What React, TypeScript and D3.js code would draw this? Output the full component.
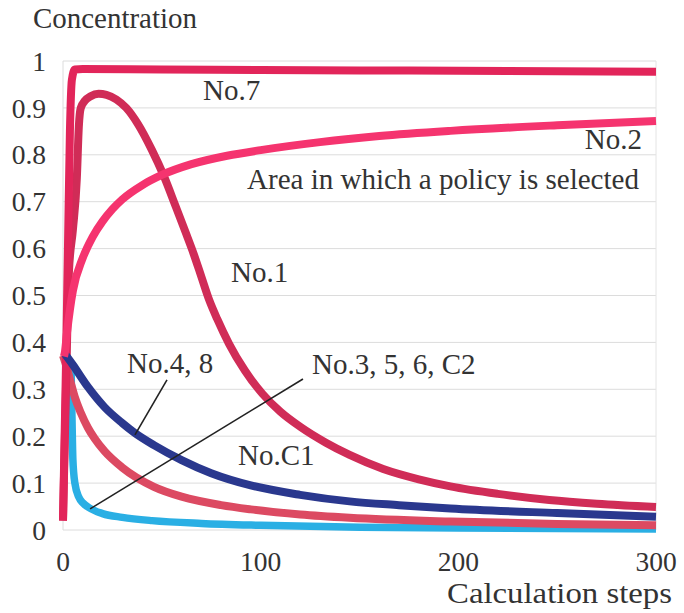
import React from "react";
import * as d3 from "d3";

// Concentration of each policy over the calculation steps
type Pt = [number, number];

const steps7: number[] = [0, 1.5, 2.5, 3.5, 4.5, 6, 10, 50, 100, 150, 200, 250, 300];
const conc7: number[] = [0.02, 0.35, 0.6, 0.85, 0.96, 0.982, 0.983, 0.982, 0.981, 0.98, 0.979, 0.978, 0.977];

const steps1: number[] = [0, 1.5, 3, 5, 7, 8, 9, 11, 14, 18, 22, 27, 32, 38, 45, 51, 57, 62, 66, 70, 74, 78, 84, 92, 101, 110, 120, 133, 145, 162, 180, 196, 220, 246, 270, 300];
const conc1: number[] = [0.02, 0.3, 0.55, 0.64, 0.75, 0.86, 0.9, 0.915, 0.925, 0.93, 0.928, 0.918, 0.9, 0.865, 0.81, 0.755, 0.69, 0.635, 0.59, 0.54, 0.49, 0.45, 0.397, 0.34, 0.29, 0.252, 0.22, 0.186, 0.16, 0.13, 0.108, 0.093, 0.077, 0.064, 0.056, 0.049];

const steps2: number[] = [0.5, 1, 2, 3.5, 5, 10, 15, 20, 25, 30, 40, 50, 65, 83, 100, 130, 160, 196, 250, 300];
const conc2: number[] = [0.37, 0.38, 0.42, 0.47, 0.51, 0.58, 0.625, 0.658, 0.684, 0.705, 0.735, 0.757, 0.78, 0.798, 0.81, 0.827, 0.84, 0.851, 0.863, 0.872];

const steps48: number[] = [1, 5, 12.6, 21, 30, 36, 46, 60, 75, 95, 120, 145, 170, 196, 250, 300];
const conc48: number[] = [0.375, 0.352, 0.305, 0.262, 0.228, 0.208, 0.181, 0.149, 0.121, 0.095, 0.075, 0.061, 0.053, 0.046, 0.036, 0.028];

const stepsC1: number[] = [0, 2, 4, 6, 9, 12.6, 16, 21, 30, 46, 60, 80, 95, 120, 145, 196, 250, 300];
const concC1: number[] = [0.372, 0.345, 0.313, 0.283, 0.25, 0.218, 0.195, 0.168, 0.133, 0.092, 0.071, 0.053, 0.044, 0.033, 0.026, 0.018, 0.013, 0.01];

const stepsC2: number[] = [4, 4.5, 5, 6, 8, 10, 13, 20, 30, 45, 70, 100, 150, 200, 300];
const concC2: number[] = [0.36, 0.25, 0.15, 0.1, 0.07, 0.058, 0.048, 0.035, 0.027, 0.02, 0.014, 0.01, 0.006, 0.004, 0.002];

const xTicks: number[] = [0, 100, 200, 300];
const yTicks: number[] = [0, 0.1, 0.2, 0.3, 0.4, 0.5, 0.6, 0.7, 0.8, 0.9, 1];

const zip = (xs: number[], ys: number[]): Pt[] => xs.map((x, i) => [x, ys[i]]);

const series = [
  { name: "No.3, 5, 6, C2", pts: zip(stepsC2, concC2), color: "#2aafe4", w: 7.5 },
  { name: "No.C1", pts: zip(stepsC1, concC1), color: "#dc4a62", w: 8 },
  { name: "No.1", pts: zip(steps1, conc1), color: "#d02c57", w: 8 },
  { name: "No.7", pts: zip(steps7, conc7), color: "#e2255a", w: 8 },
  { name: "No.4, 8", pts: zip(steps48, conc48), color: "#2a388e", w: 8 },
  { name: "No.2", pts: zip(steps2, conc2), color: "#f5346f", w: 8 },
];

// Leader lines from a label to its curve, in data units
const leaders: { from: Pt; to: Pt }[] = [
  { from: [52.6, 0.32], to: [36.4, 0.203] },
  { from: [121.4, 0.322], to: [13.7, 0.045] },
];

const FONT = '"Liberation Serif", "Times New Roman", serif';
const TEXT = "#333";

export default function App() {
  const x = d3.scaleLinear().domain([0, 300]).range([63, 656]);
  const y = d3.scaleLinear().domain([0, 1]).range([530, 61]);
  const line = d3
    .line<Pt>()
    .x((d) => x(d[0]))
    .y((d) => y(d[1]))
    .curve(d3.curveMonotoneX);

  return (
    <svg
      width={684}
      height={613}
      style={{ position: "absolute", left: 0, top: 0, background: "#fff" }}
      fontFamily={FONT}
    >
      {/* grid */}
      {yTicks.map((t) => (
        <line key={t} x1={x(0)} x2={x(300)} y1={y(t)} y2={y(t)} stroke="#dcdcdc" strokeWidth={1} />
      ))}
      <line x1={x(0)} x2={x(0)} y1={y(0)} y2={y(1)} stroke="#dcdcdc" />
      <line x1={x(300)} x2={x(300)} y1={y(0)} y2={y(1)} stroke="#e4e4e4" />

      {/* tick labels */}
      {yTicks.map((t) => (
        <text key={t} x={46} y={y(t)} dy="0.35em" textAnchor="end" fontSize={27.5} fill={TEXT}>
          {d3.format("~g")(t)}
        </text>
      ))}
      {xTicks.map((t) => (
        <text key={t} x={x(t)} y={571} textAnchor="middle" fontSize={27.5} fill={TEXT}>
          {t}
        </text>
      ))}

      {/* curves */}
      {series.map((s) => (
        <path
          key={s.name}
          d={line(s.pts) || ""}
          fill="none"
          stroke={s.color}
          strokeWidth={s.w}
          strokeLinejoin="round"
          strokeLinecap="butt"
        />
      ))}

      {/* leader lines */}
      {leaders.map((l, i) => (
        <line
          key={i}
          x1={x(l.from[0])}
          y1={y(l.from[1])}
          x2={x(l.to[0])}
          y2={y(l.to[1])}
          stroke="#222"
          strokeWidth={1.6}
        />
      ))}

      {/* labels */}
      <g fontSize={29} fill={TEXT}>
        <text x={33} y={28} textLength={164} lengthAdjust="spacingAndGlyphs">Concentration</text>
        <text x={447} y={603} fontSize={28.5} textLength={225} lengthAdjust="spacingAndGlyphs">Calculation steps</text>
        <text x={203} y={100}>No.7</text>
        <text x={642} y={149} textAnchor="end">No.2</text>
        <text x={247} y={189} textLength={392} lengthAdjust="spacingAndGlyphs">Area in which a policy is selected</text>
        <text x={231} y={282}>No.1</text>
        <text x={127} y={373}>No.4, 8</text>
        <text x={312} y={374}>No.3, 5, 6, C2</text>
        <text x={238} y={465}>No.C1</text>
      </g>
    </svg>
  );
}
